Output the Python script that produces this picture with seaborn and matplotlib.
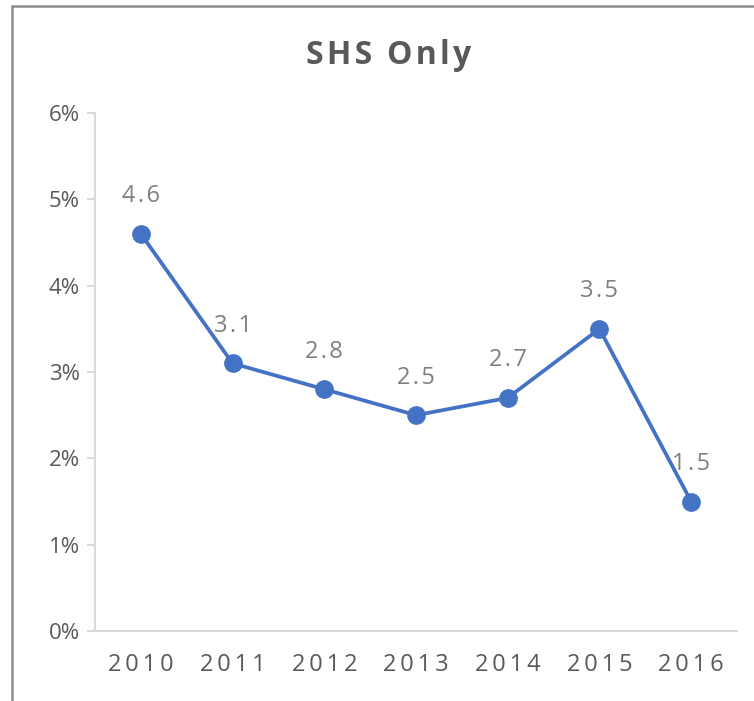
import matplotlib
matplotlib.use("Agg")
import matplotlib.pyplot as plt
import seaborn as sns
import pandas as pd
from matplotlib.ticker import FuncFormatter, MultipleLocator
from matplotlib.patches import Rectangle

years = ["2010", "2011", "2012", "2013", "2014", "2015", "2016"]
values = [4.6, 3.1, 2.8, 2.5, 2.7, 3.5, 1.5]
title = "SHS Only"

sns.set_theme(style="white")
plt.rcParams['font.family'] = ['Open Sans', 'DejaVu Sans']

df = pd.DataFrame({"year": years, "value": values})

fig = plt.figure(figsize=(7.54, 7.01), dpi=100)
ax = fig.add_axes([95/754, 1-631/701, (737-95)/754, (631-113)/701])

sns.lineplot(data=df, x="year", y="value", ax=ax, color="#4472C4", linewidth=2.7,
             marker="o", markersize=13.5, markeredgewidth=0, sort=False)

ax.set_ylim(0, 6)
ax.set_xlim(-0.5, len(years) - 0.5)
ax.yaxis.set_major_locator(MultipleLocator(1))
ax.yaxis.set_major_formatter(FuncFormatter(lambda v, p: f"{v:.0f}%"))
ax.set_xlabel("")
ax.set_ylabel("")
ax.set_xticks(range(len(years)))
ax.set_xticklabels(["\u2009".join(y) for y in years])

for s in ["top", "right"]:
    ax.spines[s].set_visible(False)
ax.spines["left"].set_color("#d9d9d9")
ax.spines["bottom"].set_color("#d9d9d9")
ax.spines["left"].set_linewidth(1.5)
ax.spines["bottom"].set_linewidth(1.5)
ax.tick_params(axis="y", length=6, width=1.5, color="#d9d9d9", labelsize=16, labelcolor="#595959", pad=5, left=True)
ax.tick_params(axis="x", length=0, labelsize=17, labelcolor="#595959", pad=16)

for i, v in enumerate(values):
    ax.annotate("\u200a".join(f"{v}"), (i, v), xytext=(0, 27), textcoords="offset points",
                ha="center", va="center", fontsize=17, color="#7f7f7f")

words = title.split(" ")
fig.text(389/754, 1-55/701, "\u2009 ".join("\u200a".join(w) for w in words),
         ha="center", va="center", fontsize=23,
         fontweight="bold", color="#595959")

fig.patches.append(Rectangle((12/754, -0.05), 1.1, 1-6/701+0.05, transform=fig.transFigure,
                             fill=False, edgecolor="#8c8c8c", linewidth=1.8))

fig.savefig("out.png", dpi=100)
